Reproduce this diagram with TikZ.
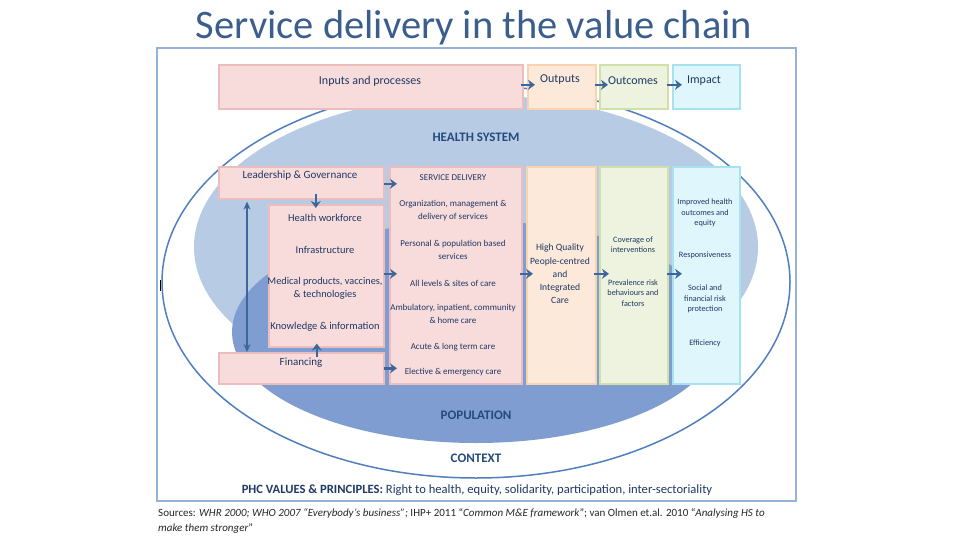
\documentclass[tikz,border=0pt]{standalone}
\usepackage{fontspec}
\setmainfont{Carlito}
\usepackage{xcolor}
\usepackage{tikz}
\usetikzlibrary{positioning,arrows.meta,calc}

\definecolor{titleblue}{HTML}{3B5E8C}
\definecolor{framecol}{HTML}{95B3D7}
\definecolor{ctxline}{HTML}{4F7FBF}
\definecolor{hsfill}{HTML}{B7CBE5}
\definecolor{popfill}{HTML}{7F9DD0}
\definecolor{labelnavy}{HTML}{1F3864}
\definecolor{zonenavy}{HTML}{254A7C}
\definecolor{arrowblue}{HTML}{3D679A}
\definecolor{pinkfill}{HTML}{F8DCDC}
\definecolor{pinkline}{HTML}{EBBDBF}
\definecolor{peachfill}{HTML}{FDE9D9}
\definecolor{peachline}{HTML}{F8D3B0}
\definecolor{greenfill}{HTML}{EEF3E0}
\definecolor{greenline}{HTML}{CFE0A8}
\definecolor{cyanfill}{HTML}{DFF6FC}
\definecolor{cyanline}{HTML}{A8E1EF}

\tikzset{
  cell/.style={draw=#1line, fill=#1fill, line width=1.6pt, anchor=north west, inner sep=0pt},
  txt/.style={text=labelnavy, align=center, inner sep=0pt},
  zone/.style={text=zonenavy, inner sep=0pt, font=\fontsize{13}{15}\bfseries},
  arr/.style={-{Stealth[length=7pt,width=10pt]}, line width=2.5pt, draw=arrowblue},
  twohead/.style={{Stealth[length=8pt,width=7pt]}-{Stealth[length=8pt,width=7pt]}, line width=1.4pt, draw=arrowblue}
}

\begin{document}
\begin{tikzpicture}[x=1pt,y=-1pt]
  \useasboundingbox (0,0) rectangle (960,540);

  % title and frame
  \node[text=titleblue, anchor=base, inner sep=0pt, font=\fontsize{40.5}{46}\selectfont] (title) at (474,39) {Service delivery in the value chain};
  \draw[framecol, line width=2.5pt] (157,48) rectangle (796,501);
  \draw[black, line width=0.8pt] (160,280) -- (160,291);

  % context / health system / population
  \draw[ctxline, line width=1.5pt, fill=white] (476,282) ellipse [x radius=314, y radius=196];
  \fill[hsfill] (476,247) ellipse [x radius=282, y radius=152];
  \fill[popfill] (476,332) ellipse [x radius=244, y radius=111];
  \node[zone] (hs) at (476,137) {HEALTH SYSTEM};
  \node[zone] (pop) at (476,415) {POPULATION};
  \node[zone] (ctx) at (476,458) {CONTEXT};

  % results chain header
  \node[cell=pink, minimum width=304pt, minimum height=44pt] (inp) at (218,64) {};
  \node[cell=peach, minimum width=68pt, minimum height=44pt] (outp) at (527,64) {};
  \node[cell=green, minimum width=68pt, minimum height=44pt] (outc) at (599,64) {};
  \node[cell=cyan, minimum width=67pt, minimum height=44pt] (imp) at (672,64) {};
  \node[txt, font=\fontsize{12}{14}\selectfont] (t-inp) at (370,81) {Inputs and processes};
  \node[txt, font=\fontsize{12}{14}\selectfont] (t-outp) at (560,80) {Outputs};
  \node[txt, font=\fontsize{12}{14}\selectfont] (t-outc) at (633,81) {Outcomes};
  \node[txt, font=\fontsize{12}{14}\selectfont] (t-imp) at (704,81) {Impact};
  \draw[arr] ($(inp.east)+(-3,-2)$) -- ($(outp.west)+(8,-2)$);
  \draw[arr] ($(outp.east)+(-2,-2)$) -- ($(outc.west)+(9,-2)$);
  \draw[arr] ($(outc.east)+(-2,-2)$) -- ($(imp.west)+(10,-2)$);

  % building blocks
  \node[cell=pink, minimum width=165pt, minimum height=32pt] (lead) at (218,166) {};
  \node[cell=pink, minimum width=115pt, minimum height=142pt] (hw) at (268,204) {};
  \node[cell=pink, minimum width=165pt, minimum height=31pt] (fin) at (218,352) {};
  \node[txt, font=\fontsize{11}{13}\selectfont] (t-lead) at (300,176) {Leadership \& Governance};
  \node[txt, font=\fontsize{10.5}{13}\selectfont] (t-hw1) at (325,218) {Health workforce};
  \node[txt, font=\fontsize{10.5}{13}\selectfont] (t-hw2) at (325,250) {Infrastructure};
  \node[txt, font=\fontsize{10.3}{13}\selectfont] (t-hw3) at (325,288) {Medical products, vaccines,\\ \& technologies};
  \node[txt, font=\fontsize{10.5}{13}\selectfont] (t-hw4) at (325,327) {Knowledge \& information};
  \node[txt, font=\fontsize{11}{13}\selectfont] (t-fin) at (301,363) {Financing};

  % service delivery column
  \node[cell=pink, minimum width=132pt, minimum height=217pt] (sd) at (389,166) {};
  \node[txt, font=\fontsize{9}{13}\selectfont] (t-sd0) at (453,178) {SERVICE DELIVERY};
  \node[txt, font=\fontsize{9}{13}\selectfont] (t-sd1) at (453,211) {Organization, management \&\\ delivery of services};
  \node[txt, font=\fontsize{9}{13}\selectfont] (t-sd2) at (453,250) {Personal \& population based\\ services};
  \node[txt, font=\fontsize{9}{13}\selectfont] (t-sd3) at (453,283) {All levels \& sites of care};
  \node[txt, font=\fontsize{9}{13}\selectfont] (t-sd4) at (453,314) {Ambulatory, inpatient, community\\ \& home care};
  \node[txt, font=\fontsize{9}{13}\selectfont] (t-sd5) at (453,347) {Acute \& long term care};
  \node[txt, font=\fontsize{9}{13}\selectfont] (t-sd6) at (453,372) {Elective \& emergency care};

  % outputs, outcomes, impact columns
  \node[cell=peach, minimum width=69pt, minimum height=217pt] (qual) at (526,166) {};
  \node[cell=green, minimum width=68pt, minimum height=217pt] (cov) at (599,166) {};
  \node[cell=cyan, minimum width=67pt, minimum height=217pt] (res) at (672,166) {};
  \node[txt, font=\fontsize{9.6}{13.2}\selectfont] (t-qual) at (560,274) {High Quality\\ People-centred\\ and\\ Integrated\\ Care};
  \node[txt, font=\fontsize{8.2}{10.2}\selectfont] (t-cov1) at (633,245) {Coverage of\\ interventions};
  \node[txt, font=\fontsize{8.2}{10.2}\selectfont] (t-cov2) at (633,293) {Prevalence risk\\ behaviours and\\ factors};
  \node[txt, font=\fontsize{8.2}{10.3}\selectfont] (t-res1) at (705,213) {Improved health\\ outcomes and\\ equity};
  \node[txt, font=\fontsize{8.2}{10.3}\selectfont] (t-res2) at (705,255) {Responsiveness};
  \node[txt, font=\fontsize{8.2}{10.3}\selectfont] (t-res3) at (705,299) {Social and\\ financial risk\\ protection};
  \node[txt, font=\fontsize{8.2}{10.3}\selectfont] (t-res4) at (705,343) {Efficiency};

  % flows
  \draw[arr] ($(lead.east)+(-1,1)$) -- ($(lead.east -| sd.west)+(8,1)$);
  \draw[arr] ($(lead.south)+(14.5,-6)$) -- ($(hw.north)+(-10.5,4)$);
  \draw[twohead] ($(lead.south west)+(29,2)$) -- ($(fin.north west)+(29,0)$);
  \draw[arr] ($(fin.north)+(15.5,5)$) -- ($(hw.south)+(-9.5,-4)$);
  \draw[arr] ($(hw.east)+(-1,-2)$) -- ($(hw.east -| sd.west)+(8,-2)$);
  \draw[arr] ($(fin.east)+(-1,0)$) -- ($(fin.east -| sd.west)+(8,0)$);
  \draw[arr] ($(sd.east)+(-3,-1.5)$) -- ($(qual.west)+(7,-1.5)$);
  \draw[arr] ($(qual.east)+(-3,-1.5)$) -- ($(cov.west)+(10,-1.5)$);
  \draw[arr] ($(cov.east)+(-2,-1.5)$) -- ($(res.west)+(10,-1.5)$);

  % principles and sources
  \node[inner sep=0pt, text=labelnavy, font=\fontsize{12.6}{14}\selectfont] (phc) at (477,490)
    {\textbf{PHC VALUES \& PRINCIPLES:} Right to health, equity, solidarity, participation, inter-sectoriality};
  \node[anchor=north west, align=left, inner sep=0pt, text=black!85, font=\fontsize{11}{15}\selectfont] (src) at (158,508)
    {Sources: \textit{WHR 2000; WHO 2007 “Everybody’s business”;} IHP+ 2011 “\textit{Common M\&E framework}”; van Olmen et.al. 2010 “\textit{Analysing HS to}\\ \textit{make them stronger}”};
\end{tikzpicture}
\end{document}
